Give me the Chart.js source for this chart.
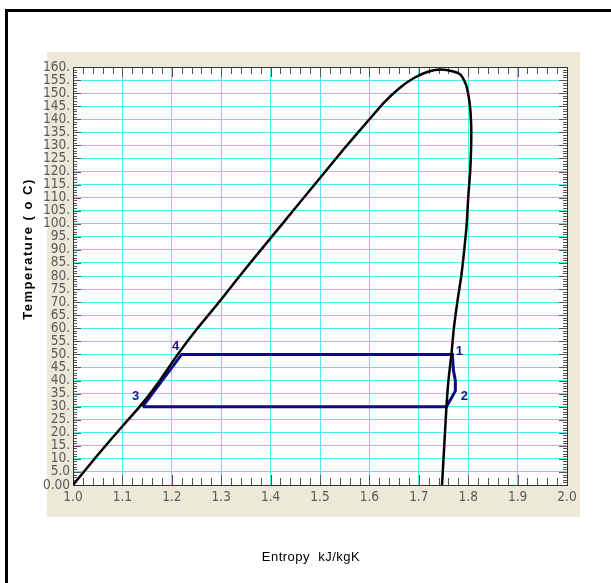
<!DOCTYPE html>
<html>
<head>
<meta charset="utf-8">
<script src="https://cdn.jsdelivr.net/npm/chart.js@4.4.1/dist/chart.umd.min.js"></script>
<style>
  html, body { margin: 0; padding: 0; background: #fff; }
  #wrap { width: 611px; height: 583px; position: relative; }
</style>
</head>
<body>
<div id="wrap"><canvas id="tsChart" width="611" height="583"></canvas></div>
<script>
// saturation dome (entropy kJ/kgK, temperature oC)
const domeS = [1.000, 1.050, 1.100, 1.135, 1.170, 1.212, 1.250, 1.300, 1.350, 1.400, 1.450, 1.500, 1.550, 1.600, 1.630, 1.660, 1.690, 1.720, 1.745,
               1.770, 1.785, 1.796, 1.803, 1.806, 1.806, 1.804, 1.800, 1.797, 1.792, 1.786, 1.778, 1.771, 1.766, 1.760, 1.756, 1.753, 1.750, 1.747];
const domeT = [0, 11.5, 22.5, 30, 38.5, 50, 59.5, 71, 83, 94.5, 106, 117.5, 129, 140, 146.5, 151.8, 155.8, 158.3, 159,
               158.3, 157, 153, 146, 138, 130, 120, 110, 100, 90, 80, 70, 60, 50, 40, 30, 20, 10, 0];

// refrigeration cycle 3 -> 4 -> 1 -> 2 -> 3
const cycleS = [1.141, 1.220, 1.768, 1.770, 1.774, 1.774, 1.756, 1.141];
const cycleT = [30, 50, 50, 44, 40, 36, 30, 30];

// state point labels and which cycle vertex they belong to
const stateNames = ["3", "4", "1", "2"];
const stateIndex = [0, 1, 2, 5];
const stateOffset = [[-7, -10], [-6, -8], [7, -3], [9, 5]];

const xMin = 1.0, xMax = 2.0, xStep = 0.1, xMinor = 0.02;
const yMin = 0, yMax = 160, yStep = 5, yMinor = 1;

const toPts = (xs, ys) => xs.map((x, i) => ({ x: x, y: ys[i] }));

const labelFont = { family: "'Liberation Sans Narrow', 'DejaVu Sans Condensed', Arial, sans-serif", size: 13.5 };

// gray panel, white plot, outer frame, ticks, titles
const decor = {
  id: "decor",
  beforeDraw(chart) {
    const { ctx, chartArea: a } = chart;
    ctx.save();
    ctx.fillStyle = "#ece9d8";
    ctx.fillRect(a.left - 26, a.top - 15, a.right - a.left + 39, a.bottom - a.top + 47);
    ctx.fillStyle = "#ffffff";
    ctx.fillRect(a.left, a.top, a.right - a.left, a.bottom - a.top);
    // outer frame
    ctx.fillStyle = "#000";
    ctx.fillRect(5, 9, 3, 574);
    ctx.fillRect(5, 9, 606, 3);
    ctx.restore();
  },
  beforeDatasetsDraw(chart) {
    const { ctx, chartArea: a, scales: { x, y } } = chart;
    ctx.save();
    ctx.strokeStyle = "#555";
    ctx.lineWidth = 1;
    ctx.beginPath();
    const nx = Math.round((xMax - xMin) / xMinor);
    for (let i = 0; i <= nx; i++) {
      const px = Math.round(x.getPixelForValue(xMin + i * xMinor)) + 0.5;
      const len = i % 5 === 0 ? 10 : 7;
      ctx.moveTo(px, a.bottom); ctx.lineTo(px, a.bottom - len);
      ctx.moveTo(px, a.top); ctx.lineTo(px, a.top + len);
    }
    const ny = Math.round((yMax - yMin) / yMinor);
    for (let i = 0; i <= ny; i++) {
      const py = Math.round(y.getPixelForValue(yMin + i * yMinor)) + 0.5;
      const len = i % 5 === 0 ? 8 : 4;
      ctx.moveTo(a.left, py); ctx.lineTo(a.left + len, py);
      ctx.moveTo(a.right, py); ctx.lineTo(a.right - len, py);
    }
    ctx.stroke();
    ctx.strokeStyle = "#333";
    ctx.strokeRect(a.left + 0.5, a.top + 0.5, a.right - a.left, a.bottom - a.top);
    ctx.restore();
  },
  afterDraw(chart) {
    const { ctx, chartArea: a, scales: { x, y } } = chart;
    ctx.save();
    // state labels
    ctx.fillStyle = "#14148a";
    ctx.font = "bold 13px 'Liberation Sans', Arial, sans-serif";
    ctx.textAlign = "center";
    ctx.textBaseline = "middle";
    stateNames.forEach((n, k) => {
      const i = stateIndex[k];
      const px = x.getPixelForValue(cycleS[i]) + stateOffset[k][0];
      const py = y.getPixelForValue(cycleT[i]) + stateOffset[k][1];
      ctx.fillText(n, px, py);
    });
    // axis titles
    ctx.fillStyle = "#000";
    ctx.font = "13px 'Liberation Sans', Arial, sans-serif";
    ctx.letterSpacing = "0.5px";
    ctx.fillText("Entropy  kJ/kgK", a.left + 238, a.bottom + 72);
    ctx.translate(28, a.top + 182);
    ctx.rotate(-Math.PI / 2);
    ctx.font = "bold 13px 'Liberation Sans', Arial, sans-serif";
    ctx.letterSpacing = "1.5px";
    ctx.fillText("Temperature ( o C)", 0, 0);
    ctx.restore();
  }
};

const ctx = document.getElementById("tsChart").getContext("2d");
new Chart(ctx, {
  type: "scatter",
  data: {
    datasets: [
      {
        label: "Saturation",
        data: toPts(domeS, domeT),
        showLine: true,
        borderColor: "#000",
        borderWidth: 2.5,
        pointRadius: 0,
        tension: 0.2,
      },
      {
        label: "Cycle",
        data: toPts(cycleS, cycleT),
        showLine: true,
        borderColor: "#0c0c80",
        borderWidth: 3,
        pointRadius: 0,
        tension: 0,
      },
    ],
  },
  options: {
    responsive: false,
    animation: false,
    layout: { padding: { left: 0, top: 67, right: 44, bottom: 0 } },
    plugins: { legend: { display: false }, tooltip: { enabled: false } },
    scales: {
      x: {
        type: "linear",
        min: xMin,
        max: xMax,
        afterFit: (s) => { s.height = 98; },
        afterBuildTicks: (s) => {
          s.ticks = [];
          for (let i = 0; i <= 10; i++) s.ticks.push({ value: xMin + i * xStep });
        },
        ticks: {
          autoSkip: false,
          maxRotation: 0,
          padding: 4,
          color: "#5a5a5a",
          font: labelFont,
          callback: (v) => Number(v).toFixed(1),
        },
        grid: { color: "#55e8f0", lineWidth: 1, drawTicks: false },
        border: { display: false },
      },
      y: {
        type: "linear",
        min: yMin,
        max: yMax,
        afterFit: (s) => { s.width = 73; },
        afterBuildTicks: (s) => {
          s.ticks = [];
          for (let v = yMin; v <= yMax; v += yStep) s.ticks.push({ value: v });
        },
        ticks: {
          autoSkip: false,
          padding: 3,
          color: "#5a5a5a",
          font: labelFont,
          callback: (v) => (v === 0 ? "0.00" : v === 5 ? "5.0" : v + "."),
        },
        grid: { color: "#55e8f0", lineWidth: 1, drawTicks: false },
        border: { display: false },
      },
    },
  },
  plugins: [decor],
});
</script>
</body>
</html>
